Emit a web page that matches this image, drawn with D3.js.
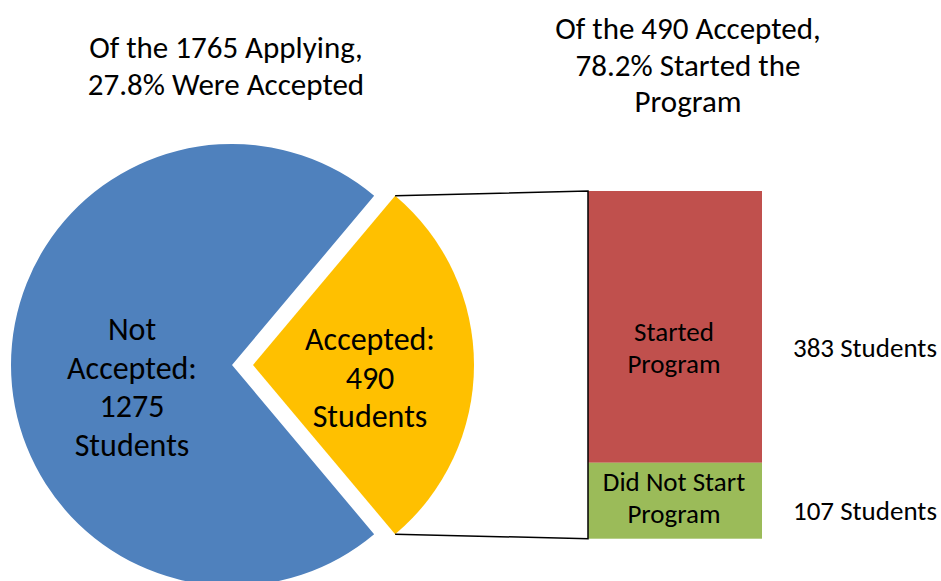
<!DOCTYPE html>
<html>
<head>
<meta charset="utf-8">
<script src="https://cdn.jsdelivr.net/npm/d3@7/dist/d3.min.js"></script>
<style>
  body { margin: 0; background: #fff; }
  text { font-family: Carlito, Lato, "Open Sans", sans-serif; fill: #000; }
</style>
</head>
<body>
<div id="chart"></div>
<script>
// applicants split
const pieCategories = ["Accepted", "Not Accepted"];
const pieValues = [490, 1275];
const pieLabels = [["Accepted:", "490", "Students"], ["Not", "Accepted:", "1275", "Students"]];

// accepted split
const barCategories = ["Started Program", "Did Not Start Program"];
const barValues = [383, 107];
const barLabels = [["Started", "Program"], ["Did Not Start", "Program"]];
const barSideLabels = ["383 Students", "107 Students"];

const titles = [
  ["Of the 1765 Applying,", "27.8% Were Accepted"],
  ["Of the 490 Accepted,", "78.2% Started the", "Program"]
];

const pieColors = ["#FFC000", "#4F81BD"];
const barColors = ["#C0504D", "#9BBB59"];

const width = 941, height = 581;
const svg = d3.select("#chart").append("svg")
  .attr("width", width)
  .attr("height", height);

const cx = 232, cy = 365, radius = 221, explode = 21;

let total = d3.sum(pieValues);
let half = pieValues[0] / total * Math.PI; // half angle of accepted slice

let pie = d3.pie().sort(null)
  .startAngle(Math.PI / 2 - half)
  .endAngle(Math.PI / 2 - half + 2 * Math.PI);
let arcs = pie(pieValues);
let arc = d3.arc().innerRadius(0).outerRadius(radius);

let offset = (d, i) => {
  if (i != 0) return [0, 0];
  let a = (d.startAngle + d.endAngle) / 2;
  return [Math.sin(a) * explode, -Math.cos(a) * explode];
};

let pieG = svg.append("g").attr("transform", `translate(${cx},${cy})`);

pieG.selectAll(".slice")
  .data(arcs)
  .enter().append("path")
  .attr("class", "slice")
  .attr("transform", (d, i) => `translate(${offset(d, i)})`)
  .attr("d", arc)
  .style("fill", (d, i) => pieColors[i]);

// slice labels
let labelPos = [[138, -26], [-100, -36]];
pieLabels.forEach((lines, i) => {
  let t = pieG.append("text")
    .attr("text-anchor", "middle")
    .style("font-size", "32px");
  lines.forEach((l, j) => {
    t.append("tspan")
      .attr("x", labelPos[i][0])
      .attr("y", labelPos[i][1] + j * 38.5 + 11)
      .text(l);
  });
});

// bar of accepted
const barX = 588, barW = 174, barTop = 191, barBottom = 538.7;
let y = d3.scaleLinear().domain([0, d3.sum(barValues)]).range([barBottom, barTop]);

// started program on top
let stacked = [
  { i: 0, y0: barValues[1], y1: barValues[1] + barValues[0] },
  { i: 1, y0: 0, y1: barValues[1] }
];
let labelShift = [21, -3], sideShift = [21, 10];

let barG = svg.append("g");
barG.selectAll(".seg")
  .data(stacked)
  .enter().append("rect")
  .attr("class", "seg")
  .attr("x", barX)
  .attr("width", barW)
  .attr("y", d => y(d.y1))
  .attr("height", d => y(d.y0) - y(d.y1))
  .style("fill", d => barColors[d.i]);

stacked.forEach(d => {
  let mid = (y(d.y0) + y(d.y1)) / 2;
  let t = barG.append("text")
    .attr("text-anchor", "middle")
    .style("font-size", "27px");
  barLabels[d.i].forEach((l, j) => {
    t.append("tspan")
      .attr("x", barX + barW / 2 - 1)
      .attr("y", mid + labelShift[d.i] + (j - 0.5) * 32 + 9)
      .text(l);
  });
  barG.append("text")
    .attr("x", 793)
    .attr("y", mid + sideShift[d.i] + 9)
    .style("font-size", "27px")
    .text(barSideLabels[d.i]);
});

// connector lines
let acc0 = arcs[0];
let off = offset(acc0, 0);
let p1 = [cx + off[0] + Math.sin(acc0.startAngle) * radius, cy + off[1] - Math.cos(acc0.startAngle) * radius];
let p2 = [cx + off[0] + Math.sin(acc0.endAngle) * radius, cy + off[1] - Math.cos(acc0.endAngle) * radius];

svg.append("path")
  .attr("d", `M${p1[0]},${p1[1]}L${barX},${y(d3.sum(barValues))}L${barX},${y(0)}L${p2[0]},${p2[1]}`)
  .style("fill", "none")
  .style("stroke", "#000")
  .style("stroke-width", 1.5);

// titles
let titleX = [226, 688], titleY = [58, 39];
titles.forEach((lines, i) => {
  let t = svg.append("text")
    .attr("text-anchor", "middle")
    .style("font-size", "31px");
  lines.forEach((l, j) => {
    t.append("tspan")
      .attr("x", titleX[i])
      .attr("y", titleY[i] + j * 36.5)
      .text(l);
  });
});
</script>
</body>
</html>
